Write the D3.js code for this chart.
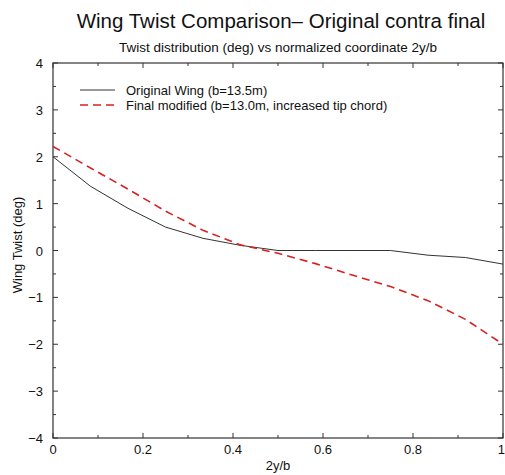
<!DOCTYPE html>
<html>
<head>
<meta charset="utf-8">
<script src="https://cdn.jsdelivr.net/npm/d3@7"></script>
<style>
  body { margin: 0; background: #fff; }
  svg { display: block; font-family: "Liberation Sans", Arial, Helvetica, sans-serif; }
</style>
</head>
<body>
<svg id="chart" width="505" height="475"></svg>
<script>
// Spanwise stations (normalized 2y/b)
const stations = [0, 1/12, 2/12, 3/12, 4/12, 5/12, 6/12, 7/12, 8/12, 9/12, 10/12, 11/12, 1];
// Twist in degrees
const originalTwist = [2.0, 1.37, 0.9, 0.5, 0.26, 0.11, 0.0, 0.0, 0.0, 0.0, -0.1, -0.15, -0.29];
const finalTwist = [2.22, 1.76, 1.31, 0.84, 0.43, 0.12, -0.06, -0.28, -0.53, -0.77, -1.07, -1.47, -2.0];
const seriesNames = ["Original Wing (b=13.5m)", "Final modified (b=13.0m, increased tip chord)"];
const xTicks = [0, 0.2, 0.4, 0.6, 0.8, 1];
const yTicks = [-4, -3, -2, -1, 0, 1, 2, 3, 4];

const svg = d3.select("#chart");
const m = { left: 53, right: 2, top: 63, bottom: 37 };
const W = 505, H = 475;

const x = d3.scaleLinear().domain([0, 1]).range([m.left, W - m.right]);
const y = d3.scaleLinear().domain([-4, 4]).range([H - m.bottom, m.top]);

const axisColor = "#333";
const fontSize = 13;

// Titles
svg.append("text").attr("x", 281).attr("y", 28).attr("text-anchor", "middle")
  .attr("font-size", 20.5).attr("fill", "#111")
  .text("Wing Twist Comparison\u2013 Original contra final");
svg.append("text").attr("x", 278).attr("y", 52).attr("text-anchor", "middle")
  .attr("font-size", 13.5).attr("fill", "#111")
  .text("Twist distribution (deg) vs normalized coordinate 2y/b");

// Frame
svg.append("rect").attr("x", x(0)).attr("y", y(4))
  .attr("width", x(1) - x(0)).attr("height", y(-4) - y(4))
  .attr("fill", "none").attr("stroke", axisColor).attr("stroke-width", 1.2);

// Inward ticks on all four sides
const xMinor = d3.range(0, 11).map(i => i / 10);
const yMinor = d3.range(0, 17).map(i => -4 + i / 2);
const tickG = svg.append("g").attr("stroke", axisColor).attr("stroke-width", 1);
xMinor.forEach(v => {
  const major = Math.abs(v * 5 - Math.round(v * 5)) < 1e-6;
  const len = major ? 5 : 3;
  tickG.append("line").attr("x1", x(v)).attr("x2", x(v)).attr("y1", y(-4)).attr("y2", y(-4) - len);
  tickG.append("line").attr("x1", x(v)).attr("x2", x(v)).attr("y1", y(4)).attr("y2", y(4) + len);
});
yMinor.forEach(v => {
  const major = Number.isInteger(v);
  const len = major ? 5 : 3;
  tickG.append("line").attr("x1", x(0)).attr("x2", x(0) + len).attr("y1", y(v)).attr("y2", y(v));
  tickG.append("line").attr("x1", x(1)).attr("x2", x(1) - len).attr("y1", y(v)).attr("y2", y(v));
});

// Tick labels (last x label kept inside the page edge)
const fmtX = d3.format("");
svg.append("g").selectAll("text").data(xTicks).join("text")
  .attr("x", d => d === 1 ? x(d) + 2 : x(d))
  .attr("y", y(-4) + 16)
  .attr("text-anchor", d => d === 1 ? "end" : "middle")
  .attr("font-size", fontSize).attr("fill", "#111")
  .text(d => fmtX(d));
svg.append("g").selectAll("text").data(yTicks).join("text")
  .attr("x", x(0) - 10).attr("y", d => y(d) + 5).attr("text-anchor", "end")
  .attr("font-size", fontSize).attr("fill", "#111")
  .text(d => d3.format("")(d));

// Axis titles
svg.append("text").attr("x", 278).attr("y", 470).attr("text-anchor", "middle")
  .attr("font-size", 13).attr("fill", "#111").text("2y/b");
svg.append("text").attr("transform", `translate(22,245) rotate(-90)`)
  .attr("text-anchor", "middle").attr("font-size", 13).attr("fill", "#111")
  .text("Wing Twist (deg)");

// Series lines
const line = d3.line().x((d, i) => x(stations[i])).y(d => y(d));
svg.append("path").datum(originalTwist).attr("d", line)
  .attr("fill", "none").attr("stroke", "#333").attr("stroke-width", 1);
svg.append("path").datum(finalTwist).attr("d", line)
  .attr("fill", "none").attr("stroke", "#d92020").attr("stroke-width", 1.6)
  .attr("stroke-dasharray", "8,5");

// Legend
const legend = svg.append("g");
const lx0 = 80, lx1 = 115, ly = [90, 105];
legend.append("line").attr("x1", lx0).attr("x2", lx1).attr("y1", ly[0]).attr("y2", ly[0])
  .attr("stroke", "#333").attr("stroke-width", 1);
legend.append("line").attr("x1", lx0).attr("x2", lx1).attr("y1", ly[1]).attr("y2", ly[1])
  .attr("stroke", "#d92020").attr("stroke-width", 1.6).attr("stroke-dasharray", "8,5");
seriesNames.forEach((s, i) => {
  legend.append("text").attr("x", 126).attr("y", ly[i] + 4.5)
    .attr("font-size", 13).attr("fill", "#111").text(s);
});
</script>
</body>
</html>
